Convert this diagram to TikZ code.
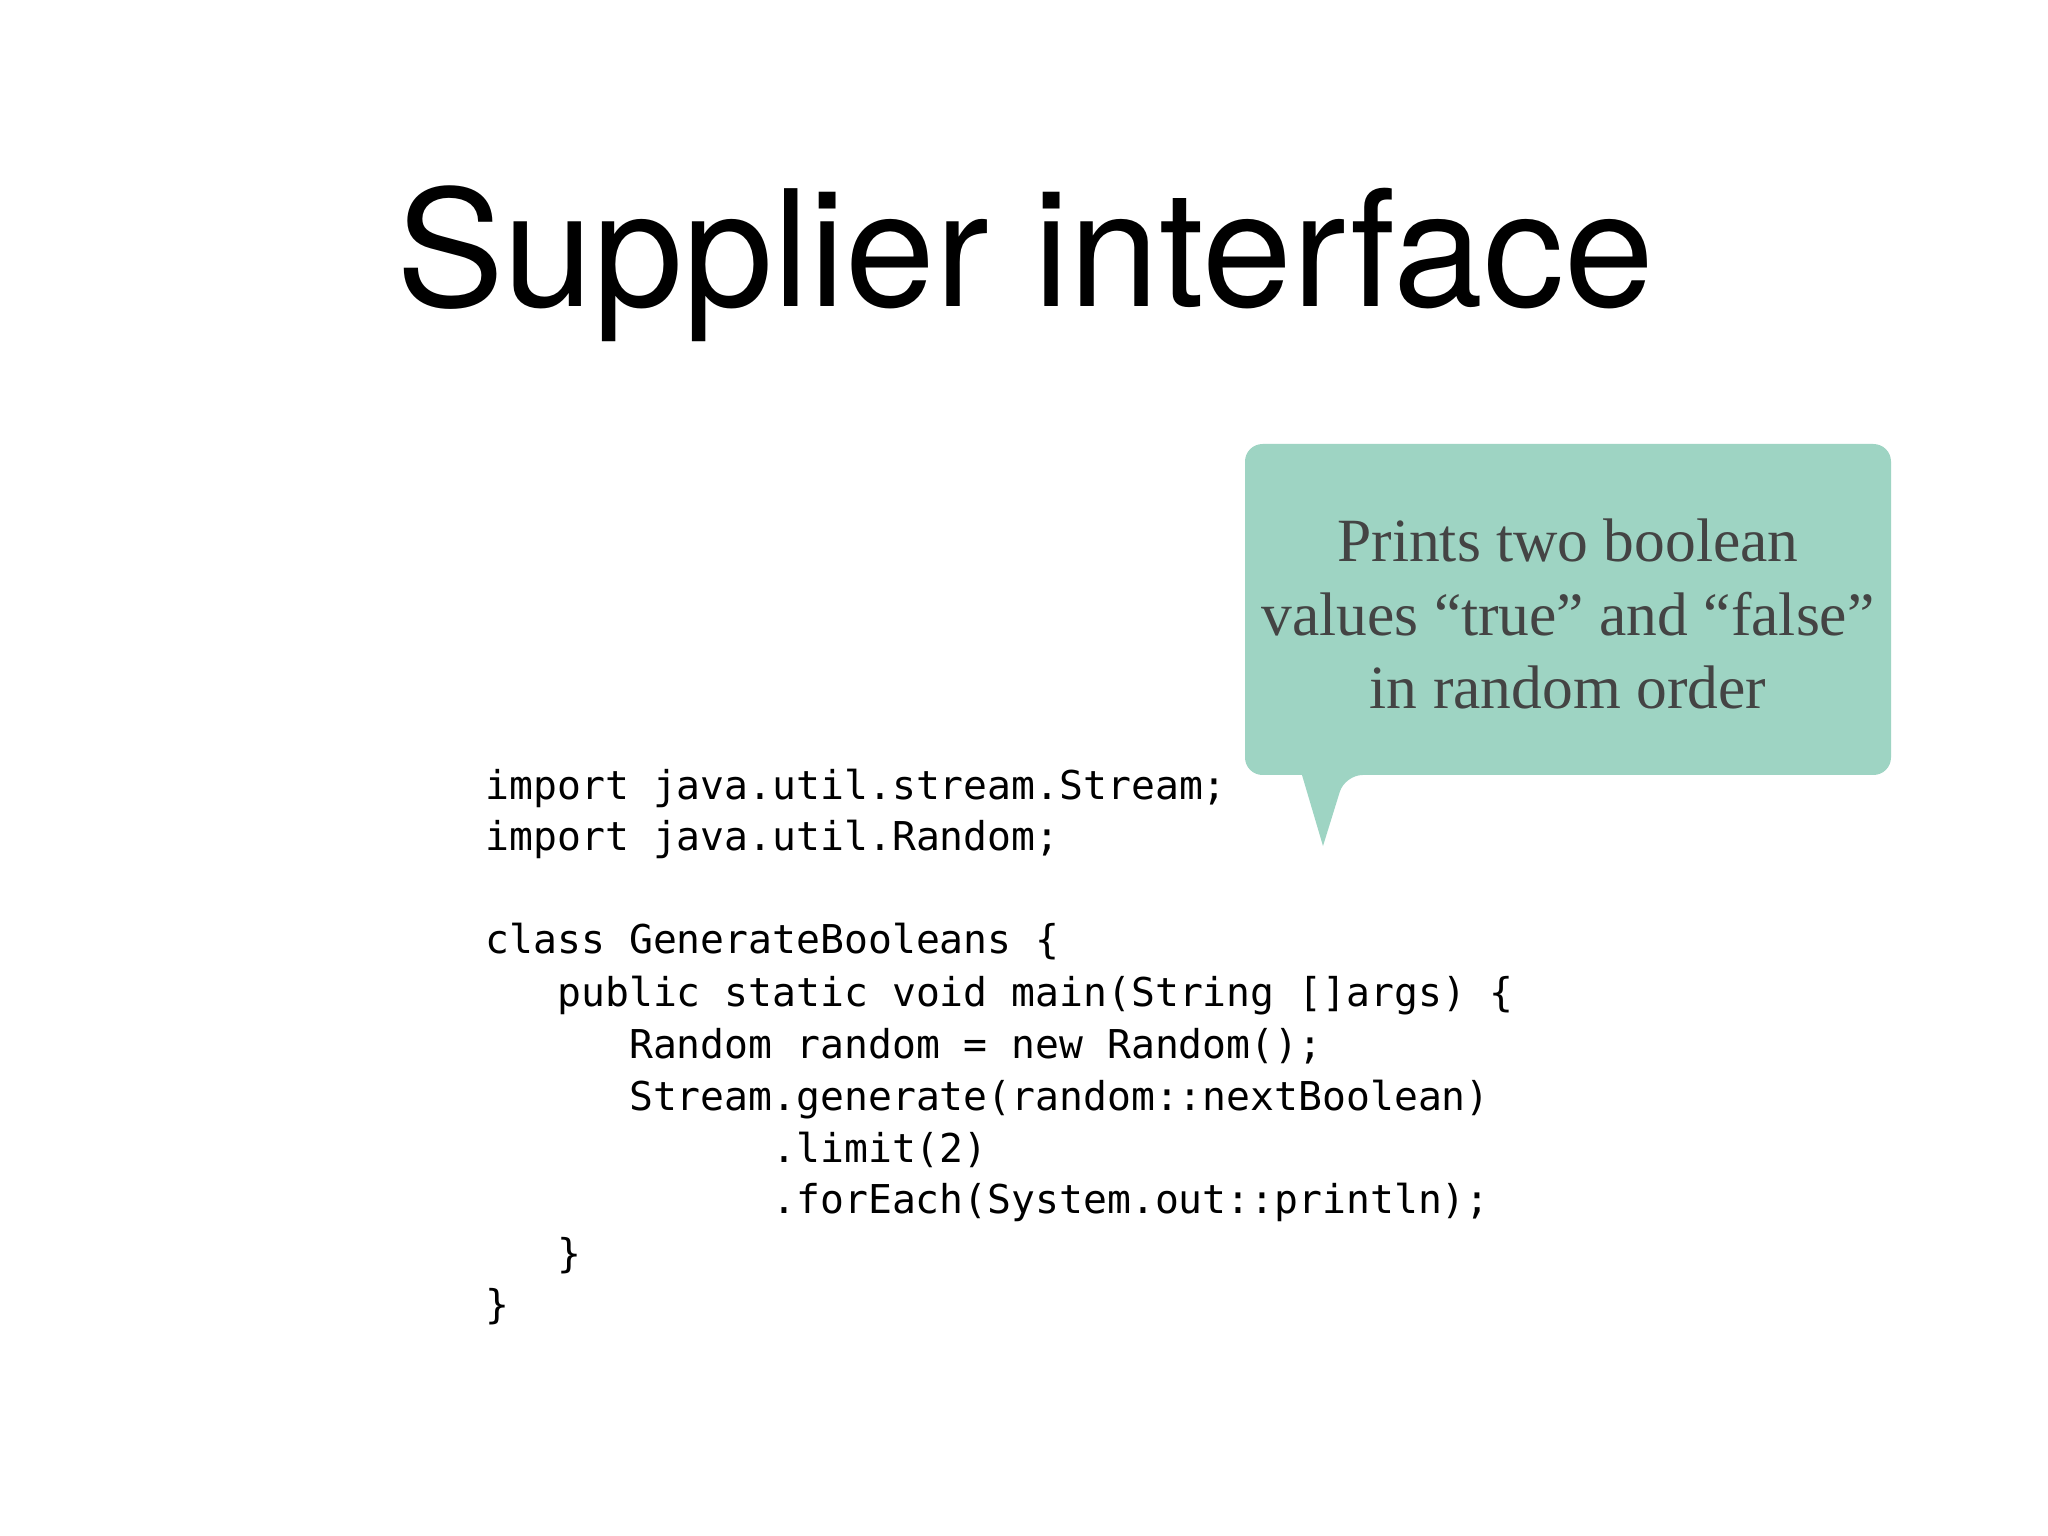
\documentclass[tikz,border=0pt]{standalone}
\usepackage{fontspec}
\setmainfont{Liberation Serif}
\setsansfont{TeX Gyre Heros}
\setmonofont{DejaVu Sans Mono}
\definecolor{callout}{HTML}{9ED4C3}
\definecolor{calltext}{HTML}{444444}
\tikzset{
  codeline/.style={anchor=base west, inner sep=0pt, font=\fontsize{11.3}{14}\selectfont\ttfamily},
  calloutbox/.style={fill=callout, rounded corners=5pt, draw=none},
}
\begin{document}
\begin{tikzpicture}[x=1cm,y=1cm]
\useasboundingbox (0,0) rectangle (20.48,-15.36);
\fill[white] (0,0) rectangle (20.48,-15.36);
\node[anchor=base, inner sep=0pt, font=\sffamily\fontsize{46}{50}\selectfont] (title) at (10.25,-3.07) {Supplier interface};
% callout
\fill[callout] (12.45,-4.44) [rounded corners=5pt] -- (18.91,-4.44) -- (18.91,-7.75) -- (13.45,-7.75) [sharp corners] -- (13.23,-8.46) -- (13.02,-7.75) [rounded corners=5pt] -- (12.45,-7.75) -- cycle;
\node[align=center, text=calltext, inner sep=0pt, font=\fontsize{17.5}{21}\selectfont] (note) at (15.68,-6.14) {Prints two boolean\\values “true” and “false”\\in random order};
% code
\def\cx{4.85}\def\cw{0.239}
\node[codeline] (c1) at (\cx,-7.99) {import java.util.stream.Stream;};
\node[codeline] (c2) at (\cx,-8.50) {import java.util.Random;};
\node[codeline] (c3) at (\cx,-9.53) {class GenerateBooleans \{};
\node[codeline] (c4) at (\cx+3*\cw,-10.06) {public static void main(String []args) \{};
\node[codeline] (c5) at (\cx+6*\cw,-10.58) {Random random = new Random();};
\node[codeline] (c6) at (\cx+6*\cw,-11.10) {Stream.generate(random::nextBoolean)};
\node[codeline] (c7) at (\cx+12*\cw,-11.62) {.limit(2)};
\node[codeline] (c8) at (\cx+12*\cw,-12.13) {.forEach(System.out::println);};
\node[codeline] (c9) at (\cx+3*\cw,-12.67) {\}};
\node[codeline] (c10) at (\cx,-13.18) {\}};
\end{tikzpicture}
\end{document}
